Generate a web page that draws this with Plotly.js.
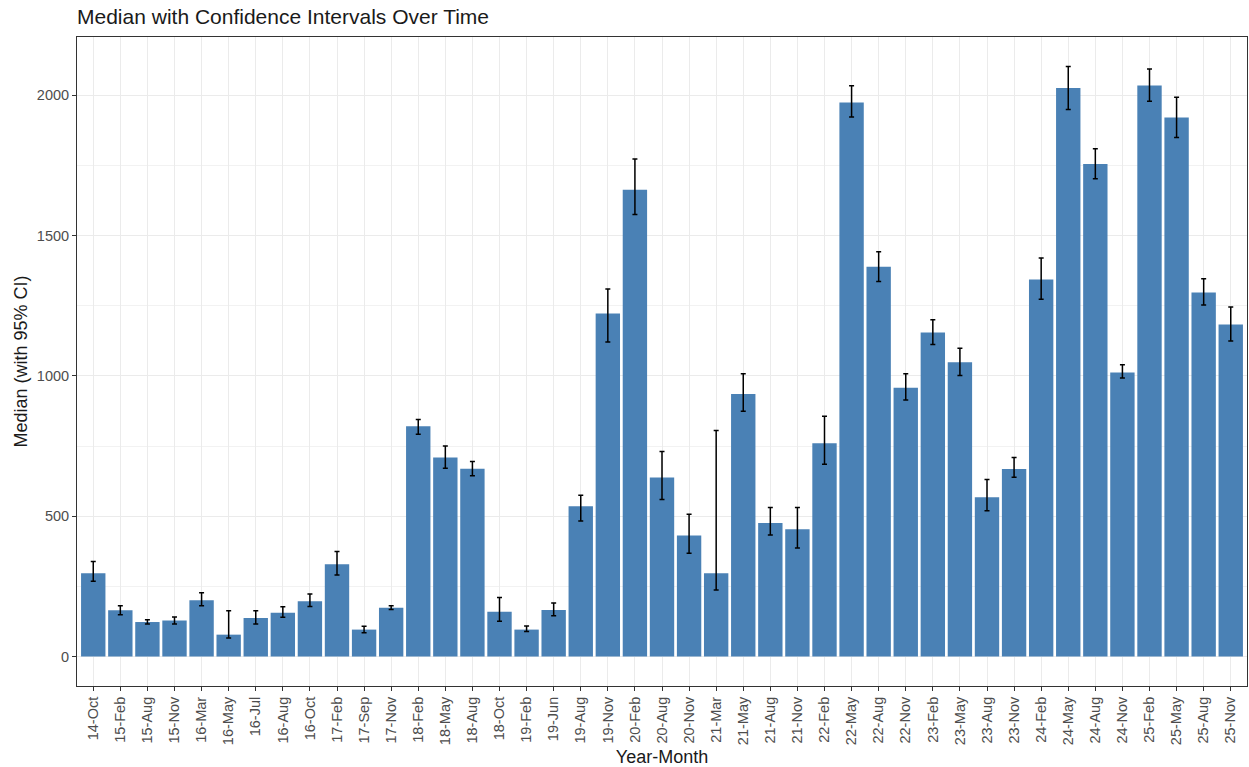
<!DOCTYPE html>
<html>
<head>
<meta charset="utf-8">
<script src="https://cdn.plot.ly/plotly-3.0.1.min.js"></script>
<style>
  html, body { margin: 0; padding: 0; background: #ffffff; }
  #chart { width: 1249px; height: 767px; }
</style>
</head>
<body>
<div id="chart"></div>
<script>
const categories = ["14-Oct","15-Feb","15-Aug","15-Nov","16-Mar","16-May","16-Jul","16-Aug","16-Oct","17-Feb","17-Sep","17-Nov","18-Feb","18-May","18-Aug","18-Oct","19-Feb","19-Jun","19-Aug","19-Nov","20-Feb","20-Aug","20-Nov","21-Mar","21-May","21-Aug","21-Nov","22-Feb","22-May","22-Aug","22-Nov","23-Feb","23-May","23-Aug","23-Nov","24-Feb","24-May","24-Aug","24-Nov","25-Feb","25-May","25-Aug","25-Nov"];
const medianValues = [297,165,123,128,201,78,137,156,197,329,96,174,821,709,669,160,96,166,536,1223,1664,638,431,297,936,476,454,760,1975,1389,958,1155,1049,568,668,1344,2026,1755,1012,2035,1921,1297,1183];
const ciLower = [268,149,116,116,181,66,116,140,178,291,85,168,792,671,644,126,89,145,483,1121,1575,560,368,237,874,433,387,685,1923,1337,914,1112,1002,520,639,1273,1950,1703,993,1979,1850,1253,1125];
const ciUpper = [339,181,131,141,227,163,163,177,223,374,108,181,845,750,695,210,109,191,575,1310,1773,731,507,806,1008,531,531,856,2034,1443,1008,1200,1099,631,709,1420,2103,1810,1040,2094,1993,1346,1246];
const yTickValues = [0, 500, 1000, 1500, 2000];

const errPlus = ciUpper.map((u, i) => u - medianValues[i]);
const errMinus = medianValues.map((m, i) => m - ciLower[i]);

const trace = {
  type: 'bar',
  x: categories,
  y: medianValues,
  marker: { color: '#4A81B5', line: { width: 0 } },
  error_y: {
    type: 'data',
    symmetric: false,
    array: errPlus,
    arrayminus: errMinus,
    color: '#000000',
    thickness: 1.5,
    width: 2.5,
    visible: true
  },
  hoverinfo: 'x+y'
};

const font = "Liberation Sans, Arial, sans-serif";

const layout = {
  width: 1249,
  height: 767,
  margin: { l: 77, r: 2, t: 37, b: 81, pad: 0 },
  paper_bgcolor: '#ffffff',
  plot_bgcolor: '#ffffff',
  bargap: 0.1,
  showlegend: false,
  font: { family: font, color: '#000000' },
  title: {
    text: 'Median with Confidence Intervals Over Time',
    font: { family: font, size: 21, color: '#1A1A1A' },
    x: 0, xref: 'paper', xanchor: 'left',
    y: 1 - 17 / 767, yref: 'container', yanchor: 'middle'
  },
  xaxis: {
    type: 'category',
    categoryorder: 'array',
    categoryarray: categories,
    range: [-0.6, categories.length - 0.4],
    tickangle: -90,
    tickfont: { family: font, size: 14.5, color: '#4D4D4D' },
    ticks: 'outside',
    ticklen: 4,
    tickwidth: 1,
    tickcolor: '#333333',
    showgrid: true,
    gridcolor: '#EBEBEB',
    gridwidth: 1,
    showline: true,
    linecolor: '#333333',
    linewidth: 1,
    mirror: true,
    zeroline: false,
    title: { text: 'Year-Month', font: { family: font, size: 18, color: '#1A1A1A' }, standoff: 6 }
  },
  yaxis: {
    range: [-105, 2208],
    tickvals: yTickValues,
    ticktext: yTickValues.map(String),
    tickfont: { family: font, size: 14.5, color: '#4D4D4D' },
    ticks: 'outside',
    ticklen: 4,
    tickwidth: 1,
    tickcolor: '#333333',
    showgrid: true,
    gridcolor: '#EBEBEB',
    gridwidth: 1,
    minor: { dtick: 250, tick0: 0, showgrid: true, gridcolor: '#F2F2F2', gridwidth: 1, ticks: '' },
    showline: true,
    linecolor: '#333333',
    linewidth: 1,
    mirror: true,
    zeroline: false,
    title: { text: 'Median (with 95% CI)', font: { family: font, size: 18, color: '#1A1A1A' }, standoff: 4 }
  }
};

Plotly.newPlot('chart', [trace], layout, { displayModeBar: false, staticPlot: true });
</script>
</body>
</html>
